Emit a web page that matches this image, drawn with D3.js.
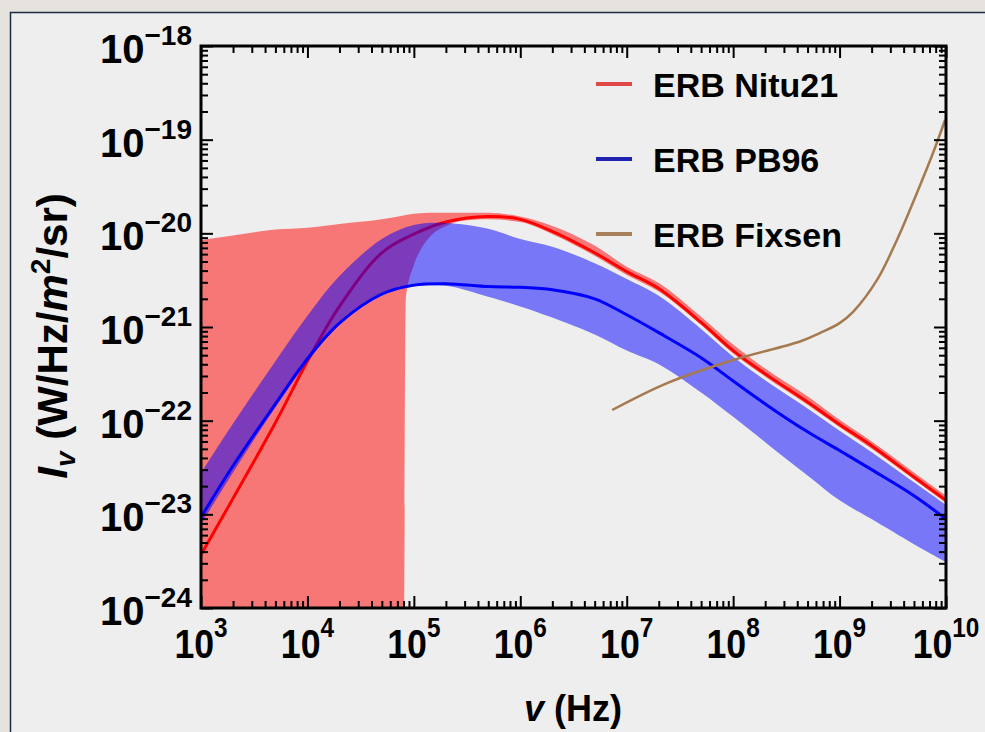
<!DOCTYPE html>
<html><head><meta charset="utf-8">
<script src="https://cdn.jsdelivr.net/npm/d3@7"></script>
<style>
html,body{margin:0;padding:0;background:#e6e3de;}
svg{display:block;font-family:"Liberation Sans",Arial,sans-serif;}
</style></head><body>
<div id="chart"></div>
<script>
// frequency grid (Hz) shared by the Nitu21 line and the PB96 band/line
var nuGrid = [1e3, 2e3, 5e3, 1e4, 2e4, 5e4, 1e5, 2e5, 5e5, 1e6, 2e6, 5e6, 1e7, 2e7, 5e7, 1e8, 2e8, 5e8, 1e9, 2e9, 5e9, 1e10];

// ERB Nitu21 central curve
var nituLine = [3.7e-24, 1.48e-23, 9.5e-23, 4.3e-22, 1.66e-21, 6.2e-21, 9.8e-21, 1.32e-20, 1.51e-20, 1.41e-20, 1.05e-20, 6.2e-21, 3.9e-21, 2.57e-21, 1.12e-21, 5.6e-22, 3.16e-22, 1.58e-22, 9.1e-23, 5.4e-23, 2.5e-23, 1.41e-23];

// ERB Nitu21 band (own grid because of the step near 8e4 Hz)
var nituBandNu = [1e3, 2e3, 5e3, 1e4, 2e4, 5e4, 8.0e4, 8.4e4, 1e5, 1.15e5, 1.4e5, 2e5, 2.7e5, 5e5, 1e6, 2e6, 5e6, 1e7, 2e7, 5e7, 1e8, 2e8, 5e8, 1e9, 2e9, 5e9, 1e10];
var nituBandHigh = [8.5e-21, 9.5e-21, 1.10e-20, 1.15e-20, 1.26e-20, 1.41e-20, 1.55e-20, 1.57e-20, 1.62e-20, 1.64e-20, 1.66e-20, 1.66e-20, 1.66e-20, 1.66e-20, 1.51e-20, 1.20e-20, 7.4e-21, 4.4e-21, 2.95e-21, 1.29e-21, 6.5e-22, 3.6e-22, 1.82e-22, 1.02e-22, 6.0e-23, 2.8e-23, 1.58e-23];
var nituBandLow = [1e-25, 1e-25, 1e-25, 1e-25, 1e-25, 1e-25, 1e-25, 2.0e-21, 4.6e-21, 6.6e-21, 9.1e-21, 1.20e-20, 1.35e-20, 1.41e-20, 1.32e-20, 9.8e-21, 5.75e-21, 3.6e-21, 2.4e-21, 1.05e-21, 5.2e-22, 2.95e-22, 1.48e-22, 8.5e-23, 5.0e-23, 2.35e-23, 1.32e-23];

// ERB PB96
var pbLine = [9.3e-24, 3.3e-23, 1.51e-22, 4.6e-22, 1.10e-21, 2.25e-21, 2.8e-21, 2.9e-21, 2.7e-21, 2.65e-21, 2.5e-21, 2.0e-21, 1.35e-21, 8.7e-22, 4.7e-22, 2.65e-22, 1.51e-22, 7.6e-23, 4.8e-23, 3.0e-23, 1.58e-23, 8.9e-24];
var pbHigh = [2.75e-23, 9.3e-23, 4.3e-22, 1.32e-21, 3.5e-21, 8.7e-21, 1.23e-20, 1.29e-20, 1.12e-20, 8.7e-21, 7.2e-21, 4.8e-21, 3.25e-21, 2.15e-21, 9.5e-22, 4.8e-22, 2.7e-22, 1.35e-22, 7.8e-23, 4.6e-23, 2.2e-23, 1.26e-23];
var pbLow = [7.8e-24, 2.8e-23, 1.38e-22, 4.2e-22, 1.07e-21, 2.15e-21, 2.7e-21, 2.75e-21, 2.1e-21, 1.66e-21, 1.26e-21, 8.3e-22, 5.6e-22, 4.0e-22, 2.0e-22, 1.1e-22, 5.9e-23, 2.6e-23, 1.41e-23, 8.9e-24, 4.8e-24, 3.1e-24];

// ERB Fixsen
var fixsenNu = [7.3e6, 2.4e7, 1.0e8, 4.25e8, 6.5e8, 1.0e9, 1.34e9, 2.25e9, 3.46e9, 5.33e9, 7.55e9, 9.8e9];
var fixsenI = [1.3e-22, 2.52e-22, 4.45e-22, 7.0e-22, 8.6e-22, 1.1e-21, 1.45e-21, 3.18e-21, 8.5e-21, 2.7e-20, 7.2e-20, 1.62e-19];

var xExps = [3, 4, 5, 6, 7, 8, 9, 10];
var yExps = [-18, -19, -20, -21, -22, -23, -24];
var legendNames = ["ERB Nitu21", "ERB PB96", "ERB Fixsen"];
var legendColors = ["#e04848", "#2222b0", "#a5805a"];

var width = 985, height = 732;
var svg = d3.select("#chart").append("svg")
    .attr("width", width)
    .attr("height", height);

svg.append("rect").attr("width", width).attr("height", height).attr("fill", "#e6e3de");
svg.append("rect")
    .attr("x", 10.5).attr("y", 12.5)
    .attr("width", width + 20).attr("height", height + 20)
    .attr("fill", "#eeeeee").attr("stroke", "#1c2b3f").attr("stroke-width", 1.5);

var x = d3.scaleLog().domain([1e3, 1e10]).range([201, 946]);
var y = d3.scaleLog().domain([1e-24, 1e-18]).range([608, 46]);

svg.append("clipPath").attr("id", "plotclip")
  .append("rect").attr("x", 201).attr("y", 46).attr("width", 745).attr("height", 562);

var plot = svg.append("g").attr("clip-path", "url(#plotclip)");

var smooth = d3.curveCatmullRom.alpha(0.5);

// Nitu21 band (monotone keeps the step clean)
var nituBand = nituBandNu.map(function(n, i){ return {nu: n, lo: nituBandLow[i], hi: nituBandHigh[i]}; });
plot.append("path").datum(nituBand)
    .attr("fill", "#ff0000").attr("fill-opacity", 0.5)
    .attr("d", d3.area().curve(d3.curveMonotoneX)
        .x(function(d){ return x(d.nu); })
        .y0(function(d){ return y(d.lo); })
        .y1(function(d){ return y(d.hi); }));

// Nitu21 line (under the PB96 band)
var lineGen = d3.line().curve(smooth)
    .x(function(d){ return x(d.nu); })
    .y(function(d){ return y(d.v); });

plot.append("path").datum(nuGrid.map(function(n, i){ return {nu: n, v: nituLine[i]}; }))
    .attr("fill", "none").attr("stroke", "#ff0000").attr("stroke-width", 3)
    .attr("d", lineGen);

// PB96 band
var pbBand = nuGrid.map(function(n, i){ return {nu: n, lo: pbLow[i], hi: pbHigh[i]}; });
plot.append("path").datum(pbBand)
    .attr("fill", "#0000ff").attr("fill-opacity", 0.5)
    .attr("d", d3.area().curve(smooth)
        .x(function(d){ return x(d.nu); })
        .y0(function(d){ return y(d.lo); })
        .y1(function(d){ return y(d.hi); }));

plot.append("path").datum(nuGrid.map(function(n, i){ return {nu: n, v: pbLine[i]}; }))
    .attr("fill", "none").attr("stroke", "#0000ff").attr("stroke-width", 3)
    .attr("d", lineGen);

// Fixsen
plot.append("path").datum(fixsenNu.map(function(n, i){ return {nu: n, v: fixsenI[i]}; }))
    .attr("fill", "none").attr("stroke", "#a57a50").attr("stroke-width", 2.5)
    .attr("d", lineGen);

// ticks: majors at decades, minors 2..9
var xMajor = xExps.map(function(e){ return Math.pow(10, e); });
var xMinor = [];
xExps.slice(0, -1).forEach(function(e){ for (var m = 2; m <= 9; m++) xMinor.push(m * Math.pow(10, e)); });
var yMajor = yExps.map(function(e){ return Math.pow(10, e); });
var yMinor = [];
yExps.slice(1).forEach(function(e){ for (var m = 2; m <= 9; m++) yMinor.push(m * Math.pow(10, e)); });

function tickAxis(axisFn, scale, vals, len, transform){
  var g = svg.append("g").attr("transform", transform)
      .call(axisFn(scale).tickValues(vals).tickSize(-len).tickFormat(""));
  g.select(".domain").remove();
  g.selectAll(".tick line").attr("stroke", "#000").attr("stroke-width", 2);
}
tickAxis(d3.axisBottom, x, xMajor, 12, "translate(0,608)");
tickAxis(d3.axisBottom, x, xMinor, 7, "translate(0,608)");
tickAxis(d3.axisTop, x, xMajor, 12, "translate(0,46)");
tickAxis(d3.axisTop, x, xMinor, 7, "translate(0,46)");
tickAxis(d3.axisLeft, y, yMajor, 12, "translate(201,0)");
tickAxis(d3.axisLeft, y, yMinor, 7, "translate(201,0)");
tickAxis(d3.axisRight, y, yMajor, 12, "translate(946,0)");
tickAxis(d3.axisRight, y, yMinor, 7, "translate(946,0)");

svg.append("rect").attr("x", 201).attr("y", 46).attr("width", 745).attr("height", 562)
    .attr("fill", "none").attr("stroke", "#000").attr("stroke-width", 3);

// tick labels
svg.selectAll(".xlab").data(xExps).enter().append("text")
    .attr("class", "xlab")
    .attr("transform", function(e){ return "translate(" + x(Math.pow(10, e)) + ",658) scale(0.87,1)"; })
    .attr("text-anchor", "middle").attr("font-weight", "bold").attr("font-size", 41)
    .each(function(e){
      var t = d3.select(this);
      t.append("tspan").text("10");
      t.append("tspan").attr("font-size", 28).attr("dy", -21).text(e);
    });

svg.selectAll(".ylab").data(yExps).enter().append("text")
    .attr("class", "ylab")
    .attr("x", 192).attr("y", function(e){ return y(Math.pow(10, e)) + 17; })
    .attr("text-anchor", "end").attr("font-weight", "bold").attr("font-size", 40)
    .each(function(e){
      var t = d3.select(this);
      t.append("tspan").text("10");
      t.append("tspan").attr("font-size", 28).attr("dy", -18).text("\u2212" + Math.abs(e));
    });

// axis titles
var yt = svg.append("text")
    .attr("transform", "translate(67,336) rotate(-90)")
    .attr("text-anchor", "middle").attr("font-weight", "bold").attr("font-size", 42);
yt.append("tspan").attr("font-style", "italic").text("I");
yt.append("tspan").attr("font-style", "italic").attr("font-size", 28).attr("dy", 8).text("v");
yt.append("tspan").attr("dy", -8).text(" (W/Hz/");
yt.append("tspan").attr("font-style", "italic").text("m");
yt.append("tspan").attr("font-size", 28).attr("dy", -17).text("2");
yt.append("tspan").attr("dy", 17).text("/sr)");

var xt = svg.append("text")
    .attr("x", 573).attr("y", 721)
    .attr("text-anchor", "middle").attr("font-weight", "bold").attr("font-size", 36);
xt.append("tspan").attr("font-style", "italic").text("v");
xt.append("tspan").text(" (Hz)");

// legend
var leg = svg.selectAll(".leg").data(legendNames).enter().append("g")
    .attr("class", "leg")
    .attr("transform", function(d, i){ return "translate(596," + (84 + i * 75) + ")"; });
leg.append("line").attr("x1", 0).attr("x2", 36).attr("y1", 0).attr("y2", 0)
    .attr("stroke", function(d, i){ return legendColors[i]; }).attr("stroke-width", 4);
leg.append("text").attr("x", 57).attr("y", 12.5)
    .attr("font-weight", "bold").attr("font-size", 34)
    .text(function(d){ return d; });
</script>
</body></html>
